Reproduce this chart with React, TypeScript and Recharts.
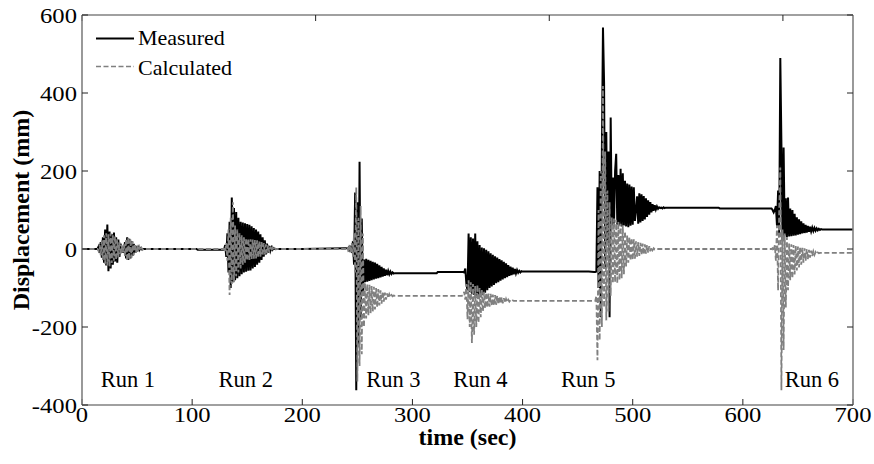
import React from "react";
import {
  LineChart,
  Line,
  XAxis,
  YAxis,
  Legend,
  Label,
  ReferenceDot,
} from "recharts";

// ---- axis ticks ----
const xTicks = [0, 100, 200, 300, 400, 500, 600, 700];
const yTicks = [-400, -200, 0, 200, 400, 600];

// ---- run labels (text, position in data units) ----
const runLabels = ["Run 1", "Run 2", "Run 3", "Run 4", "Run 5", "Run 6"];
const runLabelTime = [17, 124, 258, 337, 435, 638];
const runLabelLevel = -354;

// ---- quiet (between runs) samples ----
const baseT = [0, 10, 60, 104, 105, 120, 186, 200, 239, 290, 322, 323, 340, 410, 460, 540, 578, 579, 620, 680, 700];
const baseM = [0, 0, 0, 0, -2, -2, 0, 0, 2, -62, -62, -59, -59, -58, -58, 106, 106, 104, 104, 50, 50];
const baseC = [0, 0, 0, 0, 0, 0, 0, 0, 0, -120, -120, -120, -120, -133, -133, 0, 0, 0, 0, -10, -10];

// ---- Run 1 ----
const run1T = [14, 15, 16, 17, 18, 19, 20, 21, 22, 23, 24, 25, 26, 27, 28, 29, 30, 31, 32, 33, 34, 35, 36, 37, 38, 39, 40, 41, 42, 43, 44, 45, 46, 47, 48, 49, 50, 51, 52, 53, 54, 55, 56, 57];
const run1M = [0, 6, -10, 18, -22, 30, -35, 50, -42, 63, -57, 45, -50, 38, -40, 42, -32, 30, -35, 24, -20, 14, -9, 6, -10, 18, -24, 30, -28, 26, -24, 20, -17, 13, -10, 8, -6, 4, -3, 2, -1, 0, 0, 0];
const run1C = [0, -5, 10, -16, 22, -28, 35, -38, 40, -42, 38, -45, 40, -36, 35, -30, 32, -28, 25, -22, 18, -15, 10, -8, 12, -18, 25, -30, 30, -28, 26, -22, 20, -16, 13, -10, 8, -6, 5, -4, 3, -2, 1, 0];

// ---- Run 2 ----
const run2T = [129, 130, 131, 132, 133, 134, 135, 136, 137, 138, 139, 140, 141, 142, 143, 144, 145, 146, 147, 148, 149, 150, 151, 152, 153, 154, 155, 156, 157, 158, 159, 160, 161, 162, 163, 164, 165, 166, 167, 168, 169, 170, 171, 172, 173, 174, 175, 176, 177];
const run2M = [-2, 10, -20, 40, -60, 70, -100, 132, -85, 105, -80, 95, -75, 80, -70, 70, -65, 68, -60, 66, -58, 64, -56, 62, -55, 58, -50, 54, -46, 50, -40, 45, -35, 38, -28, 30, -20, 22, -14, 14, -9, 8, -5, 4, -2, 2, 0, 0, 0];
const run2C = [0, -8, 15, -30, 50, -118, 80, -90, 120, -85, 60, -70, 50, -60, 40, -50, 35, -40, 30, -35, 28, -30, 26, -28, 25, -26, 24, -25, 23, -24, 22, -22, 20, -20, 18, -17, 15, -14, 12, -11, 9, -8, 6, -5, 4, -3, 2, -1, 0];

// ---- Run 3 ----
const run3T = [240, 241, 242, 243, 244, 245, 246, 247, 248, 249, 250, 251, 252, 253, 254, 255, 256, 257, 258, 259, 260, 261, 262, 263, 264, 265, 266, 267, 268, 269, 270, 271, 272, 273, 274, 275, 276, 277, 278, 279, 280, 281, 282, 283, 284, 285];
const run3M = [2, 2, 4, -2, 8, -10, 20, -40, 145, -362, 120, -250, 224, -180, 78, -120, -27, -85, -25, -84, -28, -82, -30, -80, -33, -78, -35, -76, -38, -75, -42, -73, -46, -71, -50, -69, -53, -67, -56, -65, -58, -64, -60, -63, -62, -62];
const run3C = [0, 5, -8, 12, -10, 15, -20, 40, -60, 158, -340, 80, -300, 110, -270, 40, -200, -88, -178, -90, -170, -92, -165, -95, -160, -97, -155, -100, -150, -103, -145, -106, -140, -109, -135, -112, -130, -114, -126, -116, -123, -118, -121, -119, -120, -120];

// ---- Run 4 ----
const run4T = [345, 346, 347, 348, 349, 350, 351, 352, 353, 354, 355, 356, 357, 358, 359, 360, 361, 362, 363, 364, 365, 366, 367, 368, 369, 370, 371, 372, 373, 374, 375, 376, 377, 378, 379, 380, 381, 382, 383, 384, 385, 386, 387, 388, 389, 390, 391, 392, 393, 394, 395, 396, 397, 398, 399, 400];
const run4M = [-59, -59, -60, -50, -90, -106, 40, -110, 30, -115, 27, -118, 40, -120, 20, -122, 10, -123, 4, -118, 2, -112, -2, -106, -6, -100, -11, -96, -15, -92, -19, -88, -22, -85, -26, -81, -29, -78, -33, -75, -37, -72, -41, -69, -45, -67, -48, -65, -51, -63, -54, -61, -56, -60, -57, -58];
const run4C = [-120, -118, -110, -130, -90, -180, -80, -200, -85, -241, -90, -220, -95, -200, -92, -190, -100, -175, -105, -160, -110, -152, -112, -150, -114, -148, -115, -146, -117, -145, -118, -143, -120, -142, -122, -140, -124, -139, -126, -138, -128, -136, -130, -135, -131, -134, -132, -133, -133, -133, -133, -133, -133, -133, -133, -133];

// ---- Run 5 ----
const run5T = [465, 466, 467, 468, 469, 470, 471, 472, 473, 474, 475, 476, 477, 478, 479, 480, 481, 482, 483, 484, 485, 486, 487, 488, 489, 490, 491, 492, 493, 494, 495, 496, 497, 498, 499, 500, 501, 502, 503, 504, 505, 506, 507, 508, 509, 510, 511, 512, 513, 514, 515, 516, 517, 518, 519, 520, 521, 522, 523, 524, 525, 526, 527, 528, 529, 530];
const run5M = [-59, -59, -58, 158, -100, 200, -175, 250, 568, 427, -50, 300, 20, 250, -175, 337, 60, 183, 65, 200, 244, 62, 190, 60, 206, 58, 194, 60, 175, 58, 168, 56, 165, 60, 160, 62, 158, 72, 100, 135, 65, 143, 68, 140, 72, 136, 76, 130, 82, 125, 88, 120, 94, 115, 98, 112, 101, 109, 103, 107, 105, 106, 104, 107, 105, 106];
const run5C = [-133, -133, -120, -285, 100, -234, 200, -200, 418, -150, 250, -183, 150, -160, 120, -120, 81, -88, 78, -85, 75, -88, 70, -80, 65, -75, 60, -65, 45, -45, 35, -35, 30, -30, 28, -28, 25, -25, 20, -20, 18, -18, 16, -16, 14, -14, 12, -12, 10, -9, 7, -6, 4, -3, 2, -1, 0, 0, 0, 0, 0, 0, 0, 0, 0, 0];

// ---- Run 6 ----
const run6T = [625, 626, 627, 628, 629, 630, 631, 632, 633, 634, 635, 636, 637, 638, 639, 640, 641, 642, 643, 644, 645, 646, 647, 648, 649, 650, 651, 652, 653, 654, 655, 656, 657, 658, 659, 660, 661, 662, 663, 664, 665, 666, 667, 668, 669, 670, 671, 672, 673];
const run6M = [104, 104, 100, 94, 100, 110, 60, 150, 40, 490, 270, 20, 260, 35, 130, 30, 132, 32, 104, 33, 100, 34, 90, 35, 81, 37, 76, 38, 71, 40, 66, 41, 62, 42, 59, 44, 57, 45, 55, 46, 54, 47, 53, 48, 52, 49, 51, 50, 50];
const run6C = [0, 0, 2, -5, 10, -30, 60, -106, 100, 209, -362, 50, -259, 40, -150, 30, -106, 14, -80, 12, -75, 10, -65, 8, -55, 6, -47, 5, -40, 3, -35, 2, -30, 0, -26, -2, -22, -4, -18, -6, -15, -8, -13, -9, -11, -10, -10, -10, -10];

const segments: [number[], number[], number[]][] = [
  [baseT, baseM, baseC],
  [run1T, run1M, run1C],
  [run2T, run2M, run2C],
  [run3T, run3M, run3C],
  [run4T, run4M, run4C],
  [run5T, run5M, run5C],
  [run6T, run6M, run6C],
];

const data = segments
  .flatMap(([T, M, C]) => T.map((t, i) => ({ t, m: M[i], c: C[i] })))
  .sort((a, b) => a.t - b.t);

const FONT = "'Liberation Serif', 'Times New Roman', serif";

const XTick = (props: any) => {
  const { x, y, payload } = props;
  return (
    <g transform={`translate(${x},${y + 23}) scale(1.12,1)`}>
      <text x={0} y={0} textAnchor="middle" fontFamily={FONT} fontSize={22} fill="#000">
        {payload.value}
      </text>
    </g>
  );
};

const YTick = (props: any) => {
  const { x, y, payload } = props;
  return (
    <g transform={`translate(${x - 11},${y + 7.5}) scale(1.12,1)`}>
      <text x={0} y={0} textAnchor="end" fontFamily={FONT} fontSize={22} fill="#000">
        {payload.value}
      </text>
    </g>
  );
};

const NoTick = () => <g />;

const LegendBox = () => (
  <svg width={200} height={70} style={{ overflow: "visible" }}>
    <line x1={6} y1={18.5} x2={44} y2={18.5} stroke="#000" strokeWidth={2} />
    <text x={48} y={25} fontFamily={FONT} fontSize={22} fill="#000">
      Measured
    </text>
    <line x1={6} y1={46.5} x2={44} y2={46.5} stroke="#808080" strokeWidth={1.6} strokeDasharray="5 2.5" />
    <text x={48} y={55} fontFamily={FONT} fontSize={22} fill="#000">
      Calculated
    </text>
  </svg>
);

const RunText = (label: string) => (p: any) => (
  <text x={p.cx} y={p.cy} fontFamily={FONT} fontSize={22.5} fill="#000">
    {label}
  </text>
);

export default function App() {
  return (
    <div style={{ position: "absolute", left: 0, top: 0, width: 874, height: 464, background: "#fff" }}>
      <LineChart
        width={874}
        height={464}
        data={data}
        margin={{ top: 5, right: 11, bottom: 29, left: 22 }}
      >
        <XAxis
          dataKey="t"
          type="number"
          domain={[0, 700]}
          ticks={xTicks}
          interval={0}
          height={30}
          tickSize={-6}
          tickMargin={0}
          tickLine={{ stroke: "#222", strokeWidth: 1 }}
          axisLine={{ stroke: "#808080", strokeWidth: 1.6 }}
          tick={<XTick />}
          allowDataOverflow
        >
          <Label
            content={(p: any) => {
              const vb = p.viewBox || {};
              return (
                <text
                  x={vb.x + vb.width / 2}
                  y={vb.y + 40}
                  textAnchor="middle"
                  fontFamily={FONT}
                  fontWeight="bold"
                  fontSize={24}
                  fill="#000"
                >
                  time (sec)
                </text>
              );
            }}
          />
        </XAxis>
        <XAxis
          xAxisId="top"
          orientation="top"
          type="number"
          domain={[0, 700]}
          ticks={xTicks}
          interval={0}
          height={10}
          tickSize={-6}
          tickMargin={0}
          tickLine={{ stroke: "#222", strokeWidth: 1 }}
          axisLine={{ stroke: "#808080", strokeWidth: 1.6 }}
          tick={NoTick}
          allowDataOverflow
        />
        <YAxis
          type="number"
          domain={[-400, 600]}
          ticks={yTicks}
          interval={0}
          width={60}
          tickSize={-6}
          tickMargin={0}
          tickLine={{ stroke: "#222", strokeWidth: 1 }}
          axisLine={{ stroke: "#808080", strokeWidth: 1.6 }}
          tick={<YTick />}
          allowDataOverflow
        >
          <Label
            content={(p: any) => {
              const vb = p.viewBox || {};
              const cx = vb.x + 7;
              const cy = vb.y + vb.height / 2;
              return (
                <text
                  transform={`translate(${cx},${cy}) rotate(-90)`}
                  textAnchor="middle"
                  fontFamily={FONT}
                  fontWeight="bold"
                  fontSize={24}
                  fill="#000"
                >
                  Displacement (mm)
                </text>
              );
            }}
          />
        </YAxis>
        <YAxis
          yAxisId="right"
          orientation="right"
          type="number"
          domain={[-400, 600]}
          ticks={yTicks}
          interval={0}
          width={10}
          tickSize={-6}
          tickMargin={0}
          tickLine={{ stroke: "#222", strokeWidth: 1 }}
          axisLine={{ stroke: "#808080", strokeWidth: 1.6 }}
          tick={NoTick}
          allowDataOverflow
        />
        <Legend
          layout="vertical"
          align="center"
          verticalAlign="middle"
          wrapperStyle={{ position: "absolute", left: 90, top: 20, width: 200, height: 70 }}
          content={() => <LegendBox />}
        />
        <Line
          dataKey="m"
          type="linear"
          stroke="#000"
          strokeWidth={2}
          dot={false}
          activeDot={false}
          isAnimationActive={false}
        />
        <Line
          dataKey="c"
          type="linear"
          stroke="#808080"
          strokeWidth={1.8}
          strokeDasharray="5 2.5"
          dot={false}
          activeDot={false}
          isAnimationActive={false}
        />
        {runLabels.map((label, i) => (
          <ReferenceDot
            key={label}
            x={runLabelTime[i]}
            y={runLabelLevel}
            r={0}
            ifOverflow="visible"
            shape={RunText(label)}
          />
        ))}
      </LineChart>
    </div>
  );
}
